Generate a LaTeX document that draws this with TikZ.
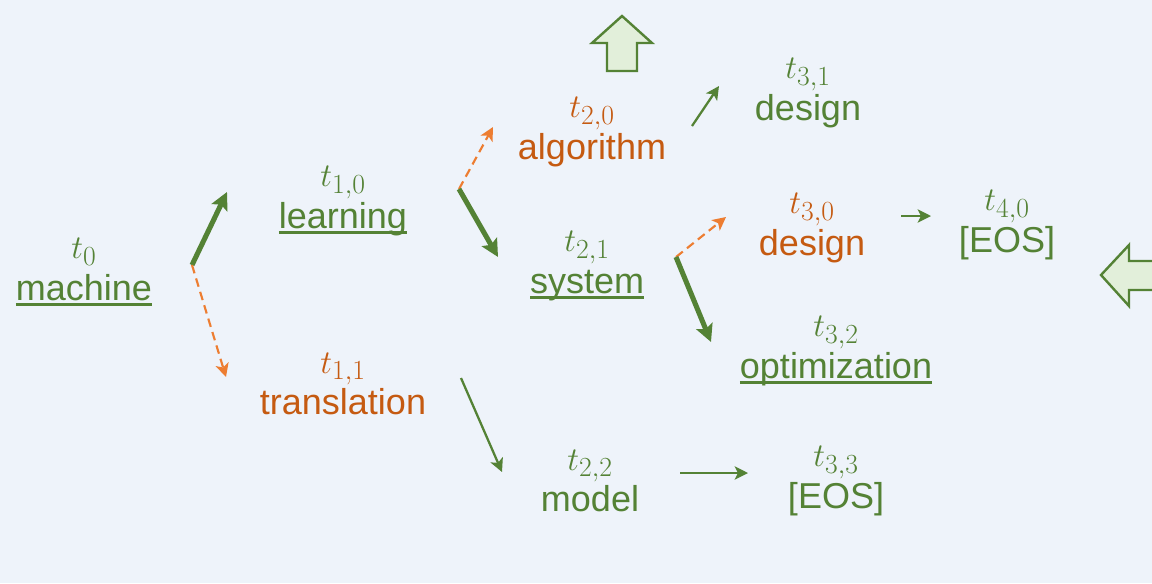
\documentclass[tikz,border=0pt]{standalone}
\usepackage{fontspec}
\setmainfont{Liberation Sans}
\usetikzlibrary{arrows.meta}
\definecolor{bg}{HTML}{EEF3FA}
\definecolor{grn}{HTML}{548235}
\definecolor{orT}{HTML}{C55A11}
\definecolor{orA}{HTML}{ED7D31}
\definecolor{lgf}{HTML}{E2EFDA}
\newcommand{\myul}[1]{\setbox0\hbox{#1}\rlap{\rule[-4.2pt]{\wd0}{1.7pt}}\box0}
\newcommand{\tv}[1]{{\fontsize{31}{31}\selectfont$#1$}}
\tikzset{
  tok/.style={align=center, inner sep=0pt, font=\fontsize{27}{31}\selectfont},
  gtok/.style={tok, text=grn},
  otok/.style={tok, text=orT},
  thickarr/.style={draw=grn, line width=3.8pt, -{Stealth[length=13pt,width=13pt,inset=2.5pt]}},
  thinarr/.style={draw=grn, line width=1.7pt, -{Stealth[length=10pt,width=10pt,inset=2.5pt]}},
  dasharr/.style={draw=orA, line width=1.6pt, dash pattern=on 6.5pt off 4pt, -{Stealth[length=10pt,width=10pt,inset=2.5pt]}},
  blockarr/.style={draw=grn, fill=lgf, line width=1.8pt}
}
\begin{document}
\begin{tikzpicture}[x=0.75pt, y=-0.75pt]
\fill[bg] (0,0) rectangle (1152,583);
\useasboundingbox (0,0) rectangle (1152,583);

\node[gtok] (m) at (84,272) {\tv{t_0}\\\myul{machine}};
\node[gtok] (l) at (343,201) {\tv{t_{1,0}}\\\myul{learning}};
\node[otok] (tr) at (343,384) {\tv{t_{1,1}}\\translation};
\node[otok] (al) at (592,132) {\tv{t_{2,0}}\\algorithm};
\node[gtok] (sy) at (587,266) {\tv{t_{2,1}}\\\myul{system}};
\node[gtok] (mo) at (590,481) {\tv{t_{2,2}}\\model};
\node[gtok] (d31) at (808,93) {\tv{t_{3,1}}\\design};
\node[otok] (d30) at (812,228) {\tv{t_{3,0}}\\design};
\node[gtok] (op) at (836,351) {\tv{t_{3,2}}\\\myul{optimization}};
\node[gtok] (e33) at (836,481) {\tv{t_{3,3}}\\{[EOS]}};
\node[gtok] (e40) at (1007,225) {\tv{t_{4,0}}\\{[EOS]}};

\coordinate (mS) at (192,265);
\coordinate (lE) at (227,192);
\coordinate (trE) at (226,377);
\coordinate (lS) at (459,189);
\coordinate (alE) at (493,127);
\coordinate (syE) at (498,257);
\coordinate (trS) at (461,378);
\coordinate (moE) at (502,472);
\coordinate (alS) at (692,126);
\coordinate (d31E) at (719,86);
\coordinate (syS) at (676,257);
\coordinate (d30E) at (726,217);
\coordinate (opE) at (711,342);
\coordinate (moS) at (680,473);
\coordinate (e33E) at (748,473);
\coordinate (d30S) at (901,216);
\coordinate (e40E) at (931,216);

\draw[thickarr] (mS) -- (lE);
\draw[dasharr] (mS) -- (trE);
\draw[dasharr] (lS) -- (alE);
\draw[thickarr] (lS) -- (syE);
\draw[thinarr] (trS) -- (moE);
\draw[thinarr] (alS) -- (d31E);
\draw[dasharr] (syS) -- (d30E);
\draw[thickarr] (syS) -- (opE);
\draw[thinarr] (moS) -- (e33E);
\draw[thinarr] (d30S) -- (e40E);

\draw[blockarr] (622,16) -- (652,43) -- (637,43) -- (637,71) -- (607,71) -- (607,43) -- (592,43) -- cycle;
\draw[blockarr] (1101,275) -- (1129,245) -- (1129,261) -- (1160,261) -- (1160,290) -- (1129,290) -- (1129,306) -- cycle;
\end{tikzpicture}
\end{document}
